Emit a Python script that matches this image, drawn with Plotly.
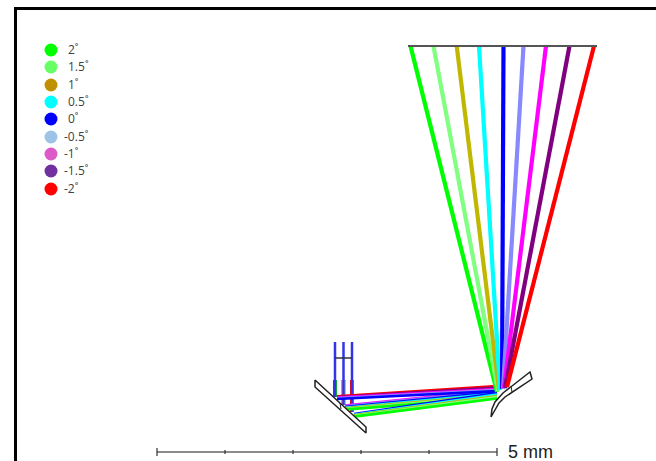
import plotly.graph_objects as go

# Field angles and colours
angles = ["2˚", "1.5˚", "1˚", "0.5˚", "0˚", "-0.5˚", "-1˚", "-1.5˚", "-2˚"]
legend_colors = ["#00ff00", "#66ff66", "#bf9000", "#00ffff", "#0000ff", "#9dc3e6", "#dc5ac8", "#7030a0", "#ff0000"]
ray_colors = ["#00ff00", "#80ff80", "#c0b800", "#00ffff", "#0000ff", "#8888ff", "#ff00ff", "#800080", "#ff0000"]
legend_x = [51] * 9
legend_y = [50, 67, 85, 102, 119, 137, 154, 171, 189]
label_x = [68, 68, 68, 68, 68, 64, 64, 64, 64]
label_y = [51, 68, 86, 103, 120, 138, 155, 172, 190]

# Image plane to curved mirror fan
image_x = [410.5, 433.5, 456.7, 479, 503.5, 523.5, 546, 569.5, 594]
image_y = 46
foot_x = [497, 498, 499, 500, 502, 503, 504, 505, 507]
foot_y = [392, 391, 390, 390, 389, 389, 388, 388, 387]
image_plane_x = [408, 597]
image_plane_y = [46, 46]

# Collimated bundles between fold mirror and curved mirror
bundle_left_x = [337, 345, 354]
bundle_left_y = [399, 407, 414]
bundle_right_offset = [-1, 0, 1]
left_spread = [2.6, 2.0, 1.4, 0.7, 0, -0.7, -1.4, -2.0, -2.6]
right_y = [397.5, 396, 395, 393.5, 392, 391, 390, 388.5, 387]
right_x = 497
draw_order = [1, 0, 2]
bundle_colors = [[8, 7, 6, 5, 4], [6, 5, 4, 3, 2, 1, 0], [4, 3, 2, 1, 0]]

# Incoming vertical beams
beam_x = [335, 343.5, 352]
beam_top = [342, 342, 342]
beam_bottom = [397, 405, 412]
beam_split_y = 380
stop_x = [335, 352]
stop_y = [358, 358]

# Mirrors
fold_x = [315, 366, 366, 315, 315]
fold_y = [380, 427, 433, 387, 380]
fold_div_x = [340, 341]
fold_div_y = [403, 409]
curved_x = [491, 492, 495, 499, 503, 512, 530, 532, 512, 505, 499, 495, 491]
curved_y = [417, 409, 402, 397, 393, 386, 372, 379, 392, 397, 403, 410, 417]
curved_div_x = [511, 512]
curved_div_y = [386, 392]

# Scale bar
bar_x = [157, 497]
bar_y = [452, 452]
tick_x = [157, 225, 293, 361, 429, 497]
tick_half = [4, 2, 2, 2, 2, 4]

# Frame
frame_x = [15.5, 15.5, 656]
frame_y = [461, 8.5, 8.5]

fig = go.Figure()


def seg(xs, ys, color, width, fill=None):
    fig.add_trace(go.Scatter(
        x=xs, y=ys, mode="lines", line=dict(color=color, width=width),
        fill="toself" if fill else None, fillcolor=fill,
        hoverinfo="skip", showlegend=False))


seg(frame_x, frame_y, "#000000", 3)

for i in range(3):
    seg([beam_x[i] - 1.5, beam_x[i] - 1.5], [beam_split_y, beam_bottom[i]], "#ff0000", 1)
    seg([beam_x[i] + 1.5, beam_x[i] + 1.5], [beam_split_y, beam_bottom[i]], "#00cc00", 1)
    seg([beam_x[i], beam_x[i]], [beam_top[i], beam_bottom[i]], "#3333ee", 2.5)
seg(stop_x, stop_y, "#333333", 1.5)

for b in draw_order:
    for c in bundle_colors[b]:
        seg([bundle_left_x[b], right_x],
            [bundle_left_y[b] + left_spread[c], right_y[c] + bundle_right_offset[b]],
            ray_colors[c], 2.6)

for c in range(9):
    seg([image_x[c], foot_x[c]], [image_y, foot_y[c]], ray_colors[c], 4.2)

seg(image_plane_x, image_plane_y, "#555555", 2.2)

seg(fold_x, fold_y, "#222222", 1.5, "#ffffff")
seg(fold_div_x, fold_div_y, "#222222", 1)
seg(curved_x, curved_y, "#222222", 1.5, "#ffffff")
seg(curved_div_x, curved_div_y, "#222222", 1)

seg(bar_x, bar_y, "#666666", 1.5)
for t, h in zip(tick_x, tick_half):
    seg([t, t], [bar_y[0] - h, bar_y[0] + h], "#333333", 1.2)

fig.add_trace(go.Scatter(
    x=legend_x, y=legend_y, mode="markers",
    marker=dict(color=legend_colors, size=13, line=dict(width=0)),
    hoverinfo="skip", showlegend=False))
fig.add_trace(go.Scatter(
    x=label_x, y=label_y, mode="text", text=angles, textposition="middle right",
    textfont=dict(family="Open Sans", size=12, color="#404040"),
    hoverinfo="skip", showlegend=False))
fig.add_trace(go.Scatter(
    x=[508], y=[453], mode="text", text=["5 mm"], textposition="middle right",
    textfont=dict(family="Liberation Sans", size=18, color="#222222"),
    hoverinfo="skip", showlegend=False))

fig.update_layout(
    width=656, height=461, autosize=False,
    margin=dict(l=0, r=0, t=0, b=0),
    paper_bgcolor="#ffffff", plot_bgcolor="#ffffff",
    xaxis=dict(range=[0, 656], visible=False, fixedrange=True),
    yaxis=dict(range=[461, 0], visible=False, fixedrange=True),
    showlegend=False,
)
fig.write_html("out.html", config={"displayModeBar": False},
               post_script="document.body.style.margin='0';document.documentElement.style.overflow='hidden';")
